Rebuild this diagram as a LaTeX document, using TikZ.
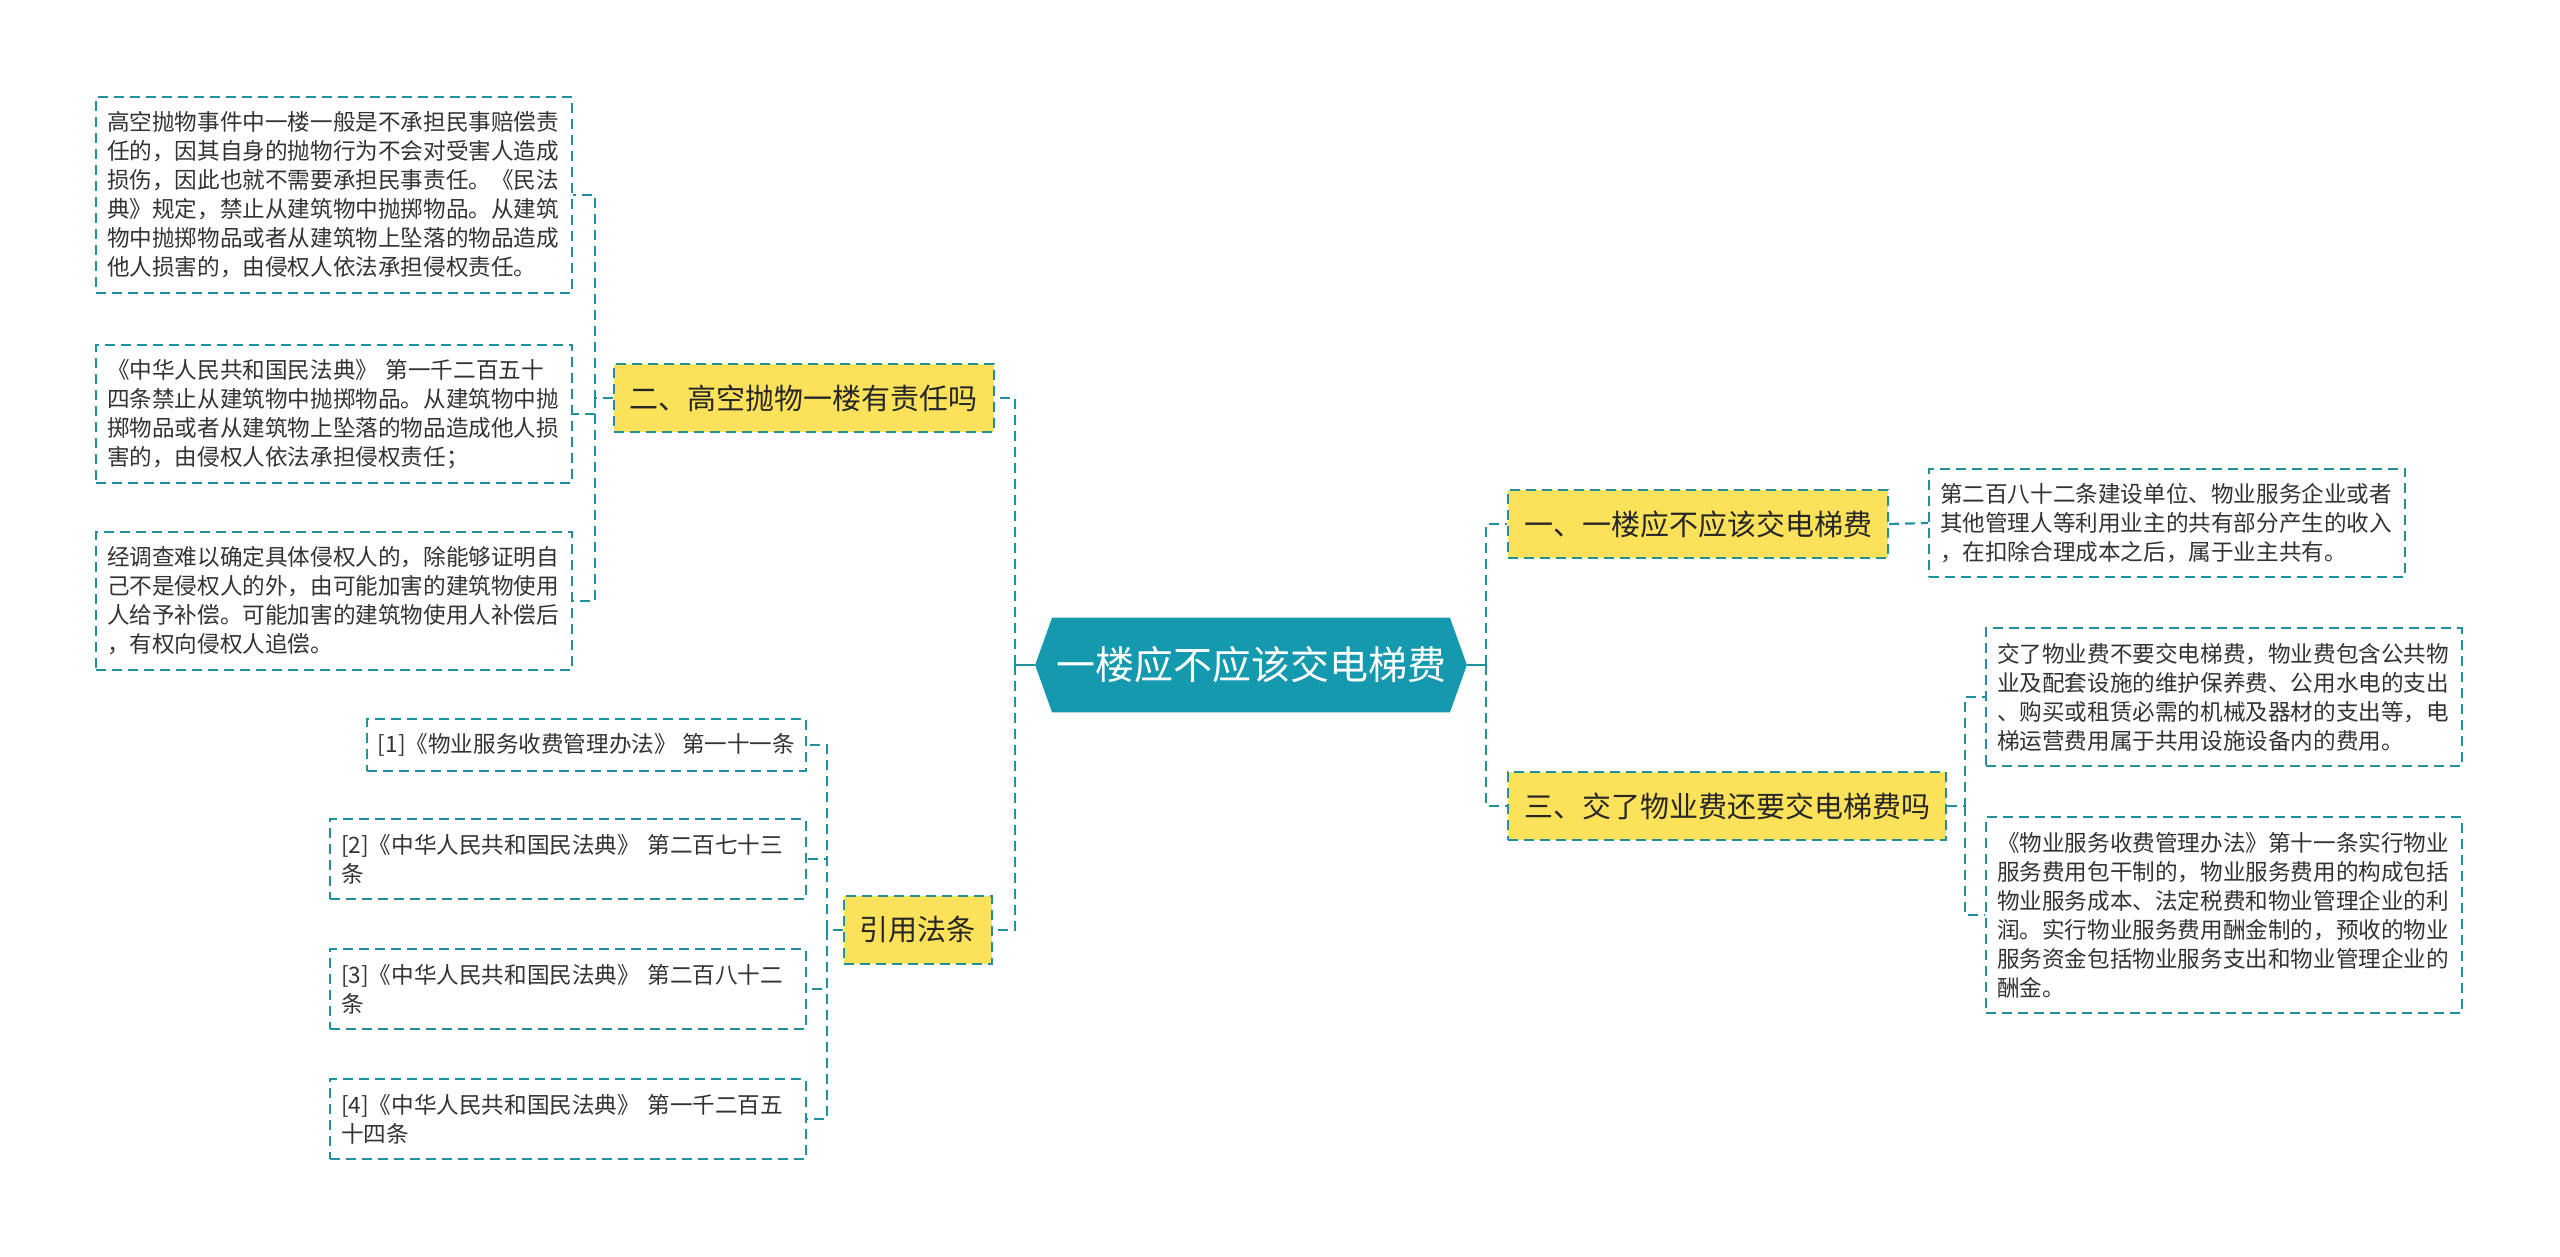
\documentclass[tikz,border=0pt]{standalone}
\usepackage{fontspec}
\setmainfont{Noto Sans CJK SC}
\usepackage{tikz}
\usetikzlibrary{backgrounds,positioning}
\definecolor{rootteal}{HTML}{1499AE}
\definecolor{linkteal}{HTML}{23909E}
\definecolor{topicyellow}{HTML}{FCE15A}
\definecolor{leaftext}{HTML}{333333}
\tikzset{
  rootnode/.style={rectangle,text=white,minimum width=198.5pt,minimum height=47pt,inner sep=0pt,font=\fontsize{19.5}{24}\selectfont},
  topic/.style={rectangle,draw=linkteal,dash pattern=on 5pt off 3pt,line width=1.1pt,fill=topicyellow,text=black!85,inner xsep=8pt,inner ysep=0pt,minimum height=34pt,font=\fontsize{14.5}{17}\selectfont},
  leaf/.style={rectangle,draw=linkteal,dash pattern=on 5pt off 3pt,line width=1pt,fill=white,text=leaftext,align=left,inner xsep=5.5pt,inner ysep=7.3pt,font=\fontsize{11.3}{14.5}\selectfont},
  wideleaf/.style={leaf,text width=227pt},
  link/.style={draw=linkteal,dash pattern=on 5pt off 3pt,line width=1.1pt},
  stub/.style={draw=linkteal,line width=1.2pt}
}

\begin{document}
\begin{tikzpicture}[x=0.5pt,y=-0.5pt]
  \useasboundingbox (0,0) rectangle (2560,1257);
  % centre
  \node[rootnode] (root) at (1251,665) {一楼应不应该交电梯费};
  \coordinate (rootl) at ([xshift=-8.5pt]root.west);
  \coordinate (rootr) at ([xshift=8.5pt]root.east);
  \begin{scope}[on background layer]
    \fill[rootteal] (root.north west) -- (root.north east) -- (rootr) -- (root.south east) -- (root.south west) -- (rootl) -- cycle;
  \end{scope}
  \coordinate (tl) at (1015,665);
  \coordinate (tr) at (1486,665);
  % left topics
  \node[topic, anchor=east] (gk) at (995,398) {二、高空抛物一楼有责任吗};
  \node[topic, anchor=east] (yy) at (993,930) {引用法条};
  % right topics
  \node[topic, anchor=west] (dt) at (1507,524) {一、一楼应不应该交电梯费};
  \node[topic, anchor=west] (wy) at (1507,806) {三、交了物业费还要交电梯费吗};
  % leaves of gk
  \node[wideleaf, anchor=east] (gk1) at (573,195) {高空抛物事件中一楼一般是不承担民事赔偿责\\
任的，因其自身的抛物行为不会对受害人造成\\
损伤，因此也就不需要承担民事责任。《民法\\
典》规定，禁止从建筑物中抛掷物品。从建筑\\
物中抛掷物品或者从建筑物上坠落的物品造成\\
他人损害的，由侵权人依法承担侵权责任。};
  \node[wideleaf, anchor=east] (gk2) at (573,414) {《中华人民共和国民法典》 第一千二百五十\\
四条禁止从建筑物中抛掷物品。从建筑物中抛\\
掷物品或者从建筑物上坠落的物品造成他人损\\
害的，由侵权人依法承担侵权责任；};
  \node[wideleaf, anchor=east] (gk3) at (573,601) {经调查难以确定具体侵权人的，除能够证明自\\
己不是侵权人的外，由可能加害的建筑物使用\\
人给予补偿。可能加害的建筑物使用人补偿后\\
，有权向侵权人追偿。};
  % leaves of yy
  \node[leaf, anchor=east] (yy1) at (807,745) {[1]《物业服务收费管理办法》 第一十一条};
  \node[wideleaf, anchor=east] (yy2) at (807,859) {[2]《中华人民共和国民法典》 第二百七十三\\条};
  \node[wideleaf, anchor=east] (yy3) at (807,989) {[3]《中华人民共和国民法典》 第二百八十二\\条};
  \node[wideleaf, anchor=east] (yy4) at (807,1119) {[4]《中华人民共和国民法典》 第一千二百五\\十四条};
  % leaves of dt and wy
  \node[wideleaf, anchor=west] (dt1) at (1928,523) {第二百八十二条建设单位、物业服务企业或者\\
其他管理人等利用业主的共有部分产生的收入\\
，在扣除合理成本之后，属于业主共有。};
  \node[wideleaf, anchor=west] (wy1) at (1985,697) {交了物业费不要交电梯费，物业费包含公共物\\
业及配套设施的维护保养费、公用水电的支出\\
、购买或租赁必需的机械及器材的支出等，电\\
梯运营费用属于共用设施设备内的费用。};
  \node[wideleaf, anchor=west] (wy2) at (1985,915) {《物业服务收费管理办法》第十一条实行物业\\
服务费用包干制的，物业服务费用的构成包括\\
物业服务成本、法定税费和物业管理企业的利\\
润。实行物业服务费用酬金制的，预收的物业\\
服务资金包括物业服务支出和物业管理企业的\\
酬金。};
  % connectors
  \coordinate (kgk) at (595,398);
  \coordinate (kyy) at (827,930);
  \coordinate (kwy) at (1965,806);
  \draw[stub] (rootl) -- (tl);
  \draw[stub] (rootr) -- (tr);
  \draw[link] (tl) |- (gk.east);
  \draw[link] (tl) |- (yy.east);
  \draw[link] (tr) |- (dt.west);
  \draw[link] (tr) |- (wy.west);
  \draw[link] (gk.west) -- (kgk) |- (gk1.east);
  \draw[link] (kgk) |- (gk2.east);
  \draw[link] (kgk) |- (gk3.east);
  \draw[link] (yy.west) -- (kyy) |- (yy1.east);
  \draw[link] (kyy) |- (yy2.east);
  \draw[link] (kyy) |- (yy3.east);
  \draw[link] (kyy) |- (yy4.east);
  \draw[link] (dt.east) -- (dt1.west);
  \draw[link] (wy.east) -- (kwy) |- (wy1.west);
  \draw[link] (kwy) |- (wy2.west);
\end{tikzpicture}
\end{document}
